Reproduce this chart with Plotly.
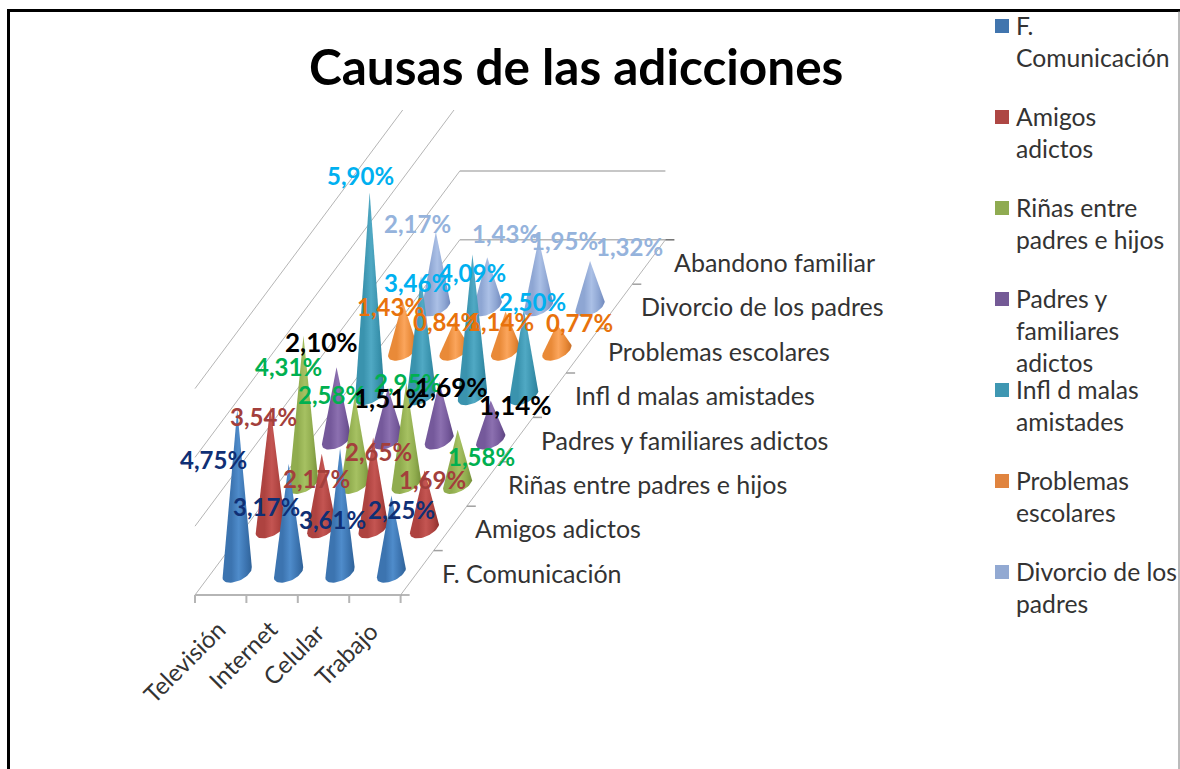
import plotly.graph_objects as go

# ---------- data ----------
columns = ["Televisión", "Internet", "Celular", "Trabajo"]
depth_labels = ["F. Comunicación", "Amigos adictos", "Riñas entre padres e hijos",
                "Padres y familiares adictos", "Infl d malas amistades",
                "Problemas escolares", "Divorcio de los padres", "Abandono familiar"]
f_comunicacion = [4.75, 3.17, 3.61, 2.25]
amigos_adictos = [3.54, 2.17, 2.65, 1.69]
rinas = [4.31, 2.58, 2.95, 1.58]
padres_familiares = [2.10, 1.51, 1.69, 1.14]
infl_malas = [5.90, 3.46, 4.09, 2.50]
problemas = [1.43, 0.84, 1.14, 0.77]
divorcio = [2.17, 1.43, 1.95, 1.32]
series_values = [f_comunicacion, amigos_adictos, rinas, padres_familiares,
                 infl_malas, problemas, divorcio]
legend_lines = [["F.", "Comunicación"], ["Amigos", "adictos"], ["Riñas entre", "padres e hijos"],
                ["Padres y", "familiares", "adictos"], ["Infl d malas", "amistades"],
                ["Problemas", "escolares"], ["Divorcio de los", "padres"]]
grid_values = [0, 2, 4, 6]

# ---------- styles ----------
SWATCH = ["#4175AE", "#AE4744", "#8FAB51", "#745A96", "#3F97B2", "#E0843F", "#92A9D2"]
SHADES = [("#2F6298", "#3C74B0", "#4F8CCB"), ("#8E2F2D", "#AE4340", "#C45552"),
          ("#76913B", "#90AC4E", "#A6C162"), ("#5D4580", "#75599B", "#8C70B0"),
          ("#2C7F99", "#3A93AE", "#50A9C4"), ("#C96F27", "#E98A38", "#FBA55C"),
          ("#7189BD", "#8EA6D3", "#ABC0E6")]
LABEL_COLOR = ["#0F2F75", "#A33F3C", "#00B050", "#000000", "#00B0F0", "#E8720C", "#95B3DC"]
LABEL_SIZE = [24, 24, 24, 26, 24, 24, 24]
LABEL_OFFSET = [
    [(-24, 50), (-22, 43), (-8, 71), (10, 14)],
    [(-7, 10), (-5, 25), (5, 14), (8, 9)],
    [(-15, 31), (-23, -1), (1, 0), (24, 27)],
    [(-15, -25), (3, 10), (12, 6), (25, 5)],
    [(-9, -17), (-4, 6), (0, 18), (9, -8)],
    [(-12, 5), (-8, 0), (-5, 10), (23, -2)],
    [(-18, -8), (18, -24), (26, 1), (39, -14)],
]
COLUMN_LABEL_OFFSET = [(-37, 66), (-30, 59), (-31, 59), (-29, 58)]
FONT = "Lato, Carlito, sans-serif"
GRID = "#B5B5B5"

# ---------- oblique projection of the chart's own scales ----------
OX, OY = 195.0, 595.0
COL = 51.4
DX, DY = 33.1, -44.4
Z = 34.4
NC, ND = len(columns), len(depth_labels)


def proj(col, depth, val=0.0):
    return OX + COL * col + DX * depth, OY + DY * depth - Z * val


def hull(pts):
    pts = sorted(set(pts))
    def cross(o, a, b):
        return (a[0]-o[0])*(b[1]-o[1]) - (a[1]-o[1])*(b[0]-o[0])
    lo, up = [], []
    for p in pts:
        while len(lo) >= 2 and cross(lo[-2], lo[-1], p) <= 0:
            lo.pop()
        lo.append(p)
    for p in reversed(pts):
        while len(up) >= 2 and cross(up[-2], up[-1], p) <= 0:
            up.pop()
        up.append(p)
    return lo[:-1] + up[:-1]


def circle(n):
    c, s = 1.0, 0.0
    step_c, step_s = 0.9921147, 0.1253332  # 1/50 of a turn
    out = []
    for _ in range(n):
        out.append((c, s))
        c, s = c * step_c - s * step_s, s * step_c + c * step_s
    return out


RING = circle(50)
R_COL, R_DEPTH = 0.245, 0.225

fig = go.Figure()


def line(pts, color=GRID, width=1):
    fig.add_trace(go.Scatter(x=[p[0] for p in pts], y=[p[1] for p in pts], mode="lines",
                             line=dict(color=color, width=width), hoverinfo="skip", showlegend=False))


# walls: gridlines run along depth on the left wall, then across the back wall
CLIP_Y = 110
for v in grid_values:
    x0, y0 = proj(0, 0, v)
    d_end = min(ND, (y0 - CLIP_Y) / -DY)
    line([(x0, y0), proj(0, d_end, v)], width=1)
    if d_end >= ND:
        line([proj(0, ND, v), proj(NC, ND, v)], width=1.5)

# floor outline and ticks
line([proj(0, 0), proj(NC, 0)], width=2)
line([proj(NC, 0), proj(NC, ND)], width=1)
for c in range(NC + 1):
    x, y = proj(c, 0)
    line([(x, y), (x, y + 8)], width=2)
for d in range(ND + 1):
    x, y = proj(NC, d)
    line([(x, y), (x + 9, y)], color="#A0A0A0" if d < ND else "#707070", width=1.5)

# cones, back to front
for d in reversed(range(len(series_values))):
    dark, mid, light = SHADES[d]
    for c in range(NC):
        v = series_values[d][c]
        pts = [proj(c + .5 + R_COL * ct, d + .5 + R_DEPTH * st) for ct, st in RING]
        pts.append(proj(c + .5, d + .5, v))
        poly = hull(pts)
        poly.append(poly[0])
        fig.add_trace(go.Scatter(
            x=[p[0] for p in poly], y=[p[1] for p in poly], mode="lines", fill="toself",
            line=dict(width=0, color=mid),
            fillgradient=dict(type="horizontal", colorscale=[
                [0, mid], [0.3, mid], [0.55, light], [0.8, mid], [1, dark]]),
            name=f"{' '.join(legend_lines[d])} – {columns[c]}",
            hovertemplate=f"{v:.2f}%<extra></extra>", showlegend=False))

ann = []
# data labels
for d, vals in enumerate(series_values):
    for c, v in enumerate(vals):
        x, y = proj(c + .5, d + .5, v)
        dx, dy = LABEL_OFFSET[d][c]
        ann.append(dict(x=x + dx, y=y + dy, text=f"{v:.2f}%".replace(".", ","), showarrow=False,
                        xanchor="center", yanchor="middle",
                        font=dict(family=FONT, size=LABEL_SIZE[d], color=LABEL_COLOR[d], weight="bold")))
# depth axis labels
for d, name in enumerate(depth_labels):
    x, y = proj(NC, d + .5)
    ann.append(dict(x=x + 23, y=y, text=name, showarrow=False, xanchor="left", yanchor="middle",
                    font=dict(family=FONT, size=25, color="#333333")))
# column labels
for c, name in enumerate(columns):
    x, y = proj(c + .5, 0)
    dx, dy = COLUMN_LABEL_OFFSET[c]
    ann.append(dict(x=x + dx, y=y + dy, text=name, textangle=-45, showarrow=False,
                    xanchor="center", yanchor="middle",
                    font=dict(family=FONT, size=24, color="#333333")))
# title
ann.append(dict(x=576, y=66, text="Causas de las adicciones", showarrow=False, xanchor="center", yanchor="middle",
                font=dict(family=FONT, size=49.5, color="#000000", weight="bold")))

# legend and frame
shapes = []
for i, lines in enumerate(legend_lines):
    ym = 26 + 91 * i
    shapes.append(dict(type="rect", x0=995, x1=1009, y0=ym - 7, y1=ym + 7, fillcolor=SWATCH[i],
                       line=dict(width=0), layer="above"))
    for k, txt in enumerate(lines):
        ann.append(dict(x=1014, y=ym - 1 + 32 * k, text=txt, showarrow=False, xanchor="left", yanchor="middle",
                        font=dict(family=FONT, size=24.7, color="#333333")))
shapes += [
    dict(type="line", x0=8.5, x1=8.5, y0=10, y1=769, line=dict(color="#000000", width=3)),
    dict(type="line", x0=7, x1=1180, y0=10.5, y1=10.5, line=dict(color="#000000", width=3)),
    dict(type="line", x0=1179, x1=1179, y0=11, y1=769, line=dict(color="#777777", width=1)),
]

fig.update_layout(
    width=1180, height=769, margin=dict(l=0, r=0, t=0, b=0),
    paper_bgcolor="white", plot_bgcolor="white", showlegend=False,
    xaxis=dict(range=[0, 1180], visible=False, fixedrange=True),
    yaxis=dict(range=[769, 0], visible=False, fixedrange=True),
    annotations=ann, shapes=shapes,
)
fig.write_html("out.html", post_script="document.body.style.margin='0';", config={"displayModeBar": False})
